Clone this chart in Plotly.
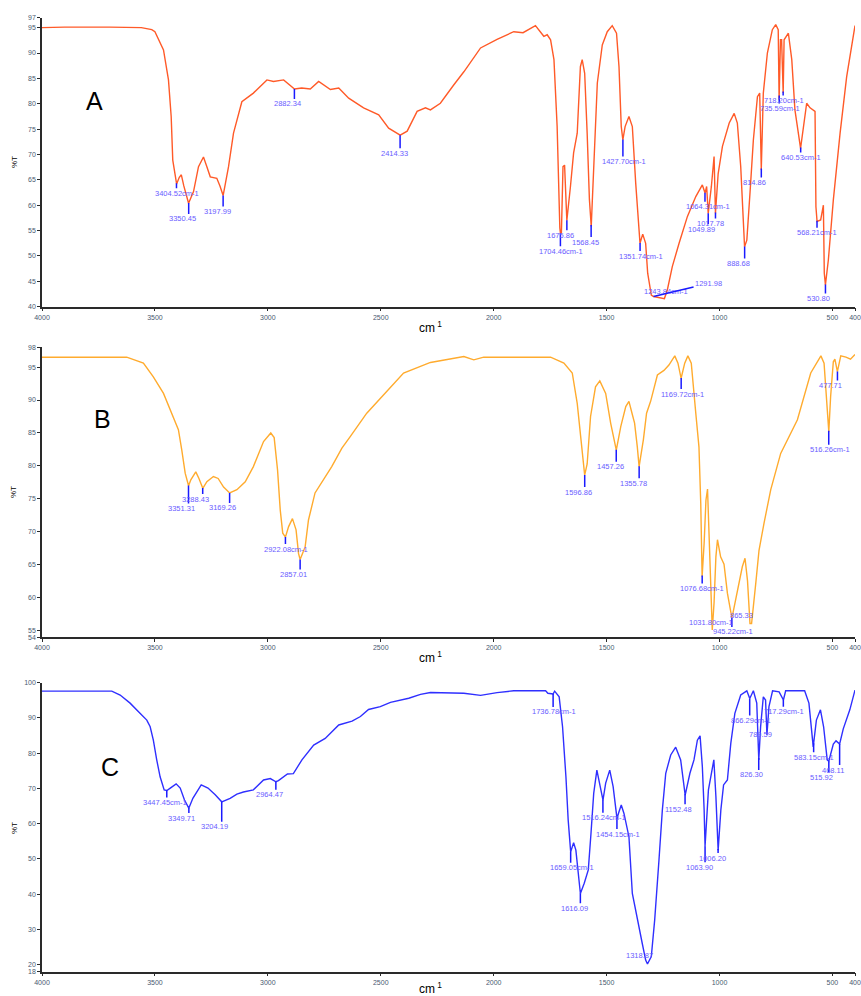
import numpy as np
import plotly.graph_objects as go

# ---------------- DATA ----------------
a_wn = [4000, 3900, 3700, 3560, 3514, 3500, 3462, 3440, 3428, 3421, 3404, 3392, 3383, 3372, 3351, 3329, 3307,
        3285, 3270, 3255, 3226, 3212, 3198, 3174, 3152, 3115, 3064, 3004, 2975, 2930, 2882, 2850, 2812, 2775,
        2723, 2686, 2642, 2576, 2509, 2465, 2414, 2383, 2339, 2302, 2280, 2236, 2177, 2132, 2058, 1985, 1911,
        1870, 1815, 1778, 1763, 1748, 1733, 1719, 1707, 1704, 1700, 1693, 1686, 1680, 1676, 1660, 1646, 1630,
        1616, 1608, 1597, 1586, 1576, 1568, 1556, 1541, 1519, 1497, 1475, 1456, 1445, 1435, 1428, 1418, 1401,
        1386, 1371, 1356, 1352, 1340, 1327, 1318, 1302, 1292, 1275, 1244, 1231, 1209, 1179, 1142, 1105, 1076,
        1064, 1057, 1050, 1036, 1024, 1018, 1006, 987, 957, 935, 921, 906, 889, 879, 865, 850, 832, 822, 815,
        806, 788, 766, 751, 740, 736, 730, 725, 718, 714, 695, 680, 666, 641, 629, 614, 599, 577, 573, 568,
        552, 540, 536, 531, 518, 496, 466, 437, 400]
a_t = [95.0, 95.1, 95.1, 95.0, 94.6, 94.2, 90.6, 84.7, 77.5, 68.9, 64.2, 65.5, 66.0, 63.8, 60.4, 62.7, 67.6,
       69.5, 67.6, 65.6, 65.3, 63.8, 61.9, 67.6, 74.2, 80.4, 82.1, 84.7, 84.4, 84.7, 82.9, 83.1, 82.9, 84.4,
       82.8, 83.1, 81.1, 79.2, 77.8, 75.2, 73.8, 74.6, 78.5, 79.2, 78.8, 80.1, 83.7, 86.3, 91.0, 92.7, 94.2,
       94.0, 95.4, 93.3, 93.6, 92.6, 88.7, 75.5, 55.5, 54.3, 54.6, 67.6, 67.9, 58.5, 57.0, 63.7, 70.3, 74.2,
       87.3, 88.7, 86.0, 74.2, 61.1, 55.8, 69.0, 84.1, 91.6, 94.2, 95.4, 93.9, 87.3, 75.5, 72.9, 75.5, 77.5,
       75.5, 64.3, 53.8, 52.5, 54.3, 52.5, 46.6, 42.3, 42.0, 41.9, 41.6, 43.3, 47.9, 52.5, 57.8, 61.7, 64.0,
       62.4, 63.7, 58.4, 63.7, 69.6, 58.4, 66.2, 71.6, 76.2, 78.1, 76.2, 67.6, 51.8, 53.1, 62.4, 72.9, 81.4, 82.1, 67.0,
       82.1, 90.0, 94.6, 95.6, 94.6, 80.8, 92.6, 92.6, 82.1, 92.6, 93.9, 88.7, 78.8, 71.2, 75.5, 80.1, 79.2, 78.5, 59.7, 56.8,
       57.1, 60.0, 46.6, 44.3, 49.2, 61.0, 74.2, 85.3, 95.4]

b_wn = [4000, 3625, 3551, 3507, 3462, 3425, 3396, 3381, 3366, 3351, 3341, 3319, 3305, 3288, 3270, 3241, 3220,
        3196, 3169, 3137, 3100, 3064, 3019, 2987, 2972, 2957, 2945, 2934, 2922, 2908, 2891, 2875, 2864, 2857,
        2835, 2820, 2791, 2717, 2672, 2636, 2562, 2487, 2399, 2280, 2206, 2132, 2088, 2044, 1911, 1748, 1689,
        1652, 1630, 1612, 1597, 1586, 1571, 1549, 1530, 1504, 1482, 1457, 1437, 1415, 1401, 1386, 1376, 1364,
        1356, 1337, 1323, 1305, 1275, 1246, 1224, 1198, 1184, 1170, 1154, 1140, 1125, 1105, 1091, 1083, 1077,
        1068, 1060, 1053, 1046, 1038, 1032, 1024, 1016, 1009, 995, 980, 965, 945, 921, 899, 887, 876, 865, 858,
        840, 825, 803, 773, 729, 655, 596, 551, 537, 522, 516, 508, 496, 489, 478, 463, 440, 420, 400]
b_t = [96.5, 96.5, 95.6, 93.5, 91.0, 88.0, 85.5, 82.4, 78.9, 77.0, 77.9, 79.1, 78.1, 76.6, 77.6, 78.4, 78.1,
       76.8, 75.9, 76.4, 77.6, 79.9, 83.7, 85.0, 84.3, 79.4, 73.3, 69.8, 69.2, 70.8, 72.0, 70.3, 66.7, 65.8,
       67.7, 71.8, 75.9, 79.9, 82.7, 84.4, 88.0, 90.8, 94.1, 95.7, 96.2, 96.6, 96.1, 96.5, 96.5, 96.5, 95.6,
       94.1, 89.5, 82.9, 78.6, 80.3, 87.5, 92.0, 92.9, 91.0, 86.5, 82.4, 86.0, 89.0, 89.8, 87.8, 86.5, 82.9,
       79.9, 84.0, 88.0, 89.8, 93.8, 94.5, 95.3, 96.7, 95.6, 93.3, 95.6, 96.7, 95.6, 88.0, 82.9, 74.3, 63.2,
       68.3, 74.8, 76.5, 70.0, 60.0, 55.1, 59.3, 66.2, 68.8, 66.2, 65.1, 60.7, 56.9, 60.7, 64.7, 66.0, 62.6, 56.1, 56.1,
       62.0, 67.2, 71.3, 76.4, 81.9, 87.0, 94.1, 96.7, 95.6, 88.0, 85.2, 90.5, 95.8, 96.2, 94.3, 96.7, 96.5, 96.2, 96.9]

c_wn = [4000, 3691, 3654, 3610, 3566, 3536, 3521, 3507, 3492, 3477, 3459, 3447, 3432, 3406, 3388, 3369, 3350,
        3332, 3295, 3265, 3233, 3204, 3167, 3137, 3108, 3064, 3019, 2989, 2964, 2953, 2913, 2887, 2849, 2797,
        2746, 2723, 2686, 2627, 2590, 2554, 2502, 2457, 2376, 2324, 2280, 2132, 2058, 1985, 1911, 1770, 1760,
        1737, 1730, 1710, 1695, 1680, 1670, 1659, 1646, 1636, 1616, 1599, 1581, 1569, 1557, 1543, 1532, 1516,
        1504, 1486, 1471, 1454, 1445, 1435, 1423, 1401, 1386, 1364, 1342, 1327, 1319, 1302, 1287, 1268, 1253,
        1238, 1216, 1194, 1172, 1152, 1131, 1113, 1098, 1086, 1076, 1068, 1064, 1049, 1034, 1025, 1016, 1006,
        994, 982, 965, 950, 932, 906, 879, 866, 850, 835, 826, 818, 806, 796, 790, 781, 765, 736, 717, 707, 623,
        604, 585, 571, 553, 539, 523, 516, 496, 484, 468, 452, 423, 400]
c_t = [97.6, 97.6, 96.5, 94.2, 91.3, 89.4, 87.5, 83.7, 78.1, 73.3, 69.6, 69.4, 70.1, 71.3, 70.1, 66.7, 64.4,
       67.2, 71.0, 70.1, 68.2, 66.2, 67.2, 68.4, 69.0, 69.6, 72.4, 72.8, 71.9, 72.2, 74.1, 74.2, 78.1, 82.3,
       84.2, 85.6, 88.0, 89.1, 90.4, 92.4, 93.2, 94.4, 95.6, 96.7, 97.2, 97.0, 96.4, 97.2, 97.7, 97.7, 97.0,
       96.8, 97.6, 96.0, 87.5, 73.3, 61.0, 52.0, 54.6, 52.5, 40.2, 43.1, 46.9, 57.3, 68.6, 75.2, 71.5, 66.7,
       71.5, 75.2, 70.5, 61.5, 63.4, 65.3, 62.9, 56.3, 40.2, 33.6, 26.0, 21.3, 20.2, 22.3, 32.7, 49.7, 63.9,
       74.3, 79.5, 81.7, 78.1, 68.1, 74.3, 78.1, 83.7, 84.9, 76.2, 63.9, 53.5, 69.6, 74.3, 78.1, 67.8, 52.5,
       63.9, 71.0, 72.4, 82.8, 91.3, 96.5, 97.7, 95.5, 97.7, 94.2, 78.1, 87.5, 96.0, 95.1, 85.2, 93.2, 97.7, 97.4, 95.1, 97.7, 97.7,
       94.2, 81.8, 89.4, 92.3, 87.5, 78.1, 77.7, 82.6, 83.5, 82.6, 86.9, 92.3, 97.9]

# peak labels (text shown) for each spectrum
a_peaks = ["3404.52cm-1", "3350.45", "3197.99", "2882.34", "2414.33", "1704.46cm-1", "1675.86", "1568.45",
           "1427.70cm-1", "1351.74cm-1", "1243.84cm-1", "1291.98", "1064.31cm-1", "1049.89", "1017.78",
           "888.68", "814.86", "735.59cm-1", "718.20cm-1", "640.53cm-1", "568.21cm-1", "530.80"]
b_peaks = ["3351.31", "3288.43", "3169.26", "2922.08cm-1", "2857.01", "1596.86", "1457.26", "1355.78",
           "1169.72cm-1", "1076.68cm-1", "1031.80cm-1", "945.22cm-1", "865.33", "516.26cm-1", "477.71"]
c_peaks = ["3447.45cm-1", "3349.71", "3204.19", "2964.47", "1736.78cm-1", "1659.05cm-1", "1616.09",
           "1516.24cm-1", "1454.15cm-1", "1318.87", "1152.48", "1063.90", "1006.20", "866.29cm-1", "826.30",
           "789.59", "717.29cm-1", "583.15cm-1", "515.92", "468.11"]

x_ticks = [4000, 3500, 3000, 2500, 2000, 1500, 1000, 500, 400]
a_yticks = [40, 45, 50, 55, 60, 65, 70, 75, 80, 85, 90, 95, 97]
b_yticks = [54, 55, 60, 65, 70, 75, 80, 85, 90, 95, 98]
c_yticks = [18, 20, 30, 40, 50, 60, 70, 80, 90, 100]

# ---------------- LAYOUT (label placement, px) ----------------
# (drop below curve to label centre, horizontal shift)
a_place = [(10, 1), (16, -6), (16, -6), (15, -7), (18, -6), (18, 1), (15, -6), (17, -6), (22, 1), (13, 1),
           (-7, 2), None, (14, 3), (16, -7), (11, -5), (17, -6), (14, -7), (13, 1), (9, 1), (10, 0), (12, 0),
           (14, -7)]
b_place = [(23, -7), (11, -7), (15, -7), (12, 1), (15, -7), (17, -6), (17, -6), (17, -6), (16, 1), (13, 0),
           (-7, -1), (14, 1), (-7, -8), (19, 1), (14, -7)]
c_place = [(12, -2), (10, -7), (25, -7), (13, -6), (18, 1), (16, 1), (15, -6), (18, 1), (16, 1), (-8, -8),
           (15, -7), (21, -6), (9, -6), (22, 1), (17, -7), (1, -7), (12, 1), (14, 0), (16, -7), (26, -7)]

W, H = 861, 996
X0, X1 = 42, 855
panels = [
    dict(wn=a_wn, t=a_t, peaks=a_peaks, place=a_place, yt=a_yticks, top=17.5, bot=306.7, color="#ff5a28",
         letter="A", lpos=(94, 101), ttl=327, pct=162),
    dict(wn=b_wn, t=b_t, peaks=b_peaks, place=b_place, yt=b_yticks, top=347.3, bot=637.3, color="#ffab2e",
         letter="B", lpos=(102, 419), ttl=657, pct=492),
    dict(wn=c_wn, t=c_t, peaks=c_peaks, place=c_place, yt=c_yticks, top=682.7, bot=971.7, color="#2f2fff",
         letter="C", lpos=(110, 767), ttl=988, pct=828),
]

fig = go.Figure()
annotations = []
LBL = "#6a5cff"
TICKC = "#4a5a70"

for i, p in enumerate(panels):
    n = "" if i == 0 else str(i + 1)
    xa, ya = "x" + n, "y" + n
    ymin, ymax = p["yt"][0], p["yt"][-1]
    ppu = (p["bot"] - p["top"]) / (ymax - ymin)
    fig.add_trace(go.Scatter(x=p["wn"], y=p["t"], mode="lines", xaxis=xa, yaxis=ya,
                             line=dict(color=p["color"], width=1.4), showlegend=False, hoverinfo="skip"))
    asc_x = np.array(p["wn"][::-1], dtype=float)
    asc_y = np.array(p["t"][::-1], dtype=float)
    lx, ly = [], []
    for lab, pl in zip(p["peaks"], p["place"]):
        wn = float(lab.replace("cm-1", ""))
        ty = float(np.interp(wn, asc_x, asc_y))
        if pl is None:  # leader line label
            annotations.append(dict(x=wn, y=ty, xref=xa, yref=ya, text=lab, showarrow=True, arrowhead=0,
                                    arrowwidth=1.5, arrowcolor="#1a1aff", ax=55, ay=-13, standoff=0,
                                    font=dict(size=7.5, color=LBL, family="Liberation Sans")))
            continue
        drop, dx = pl
        if drop > 8:
            lx += [wn, wn, None]
            ly += [ty, ty - (drop - 5) / ppu, None]
        annotations.append(dict(x=wn, y=ty, xref=xa, yref=ya, text=lab, showarrow=False, xshift=dx,
                                yshift=-drop, xanchor="center", yanchor="middle",
                                font=dict(size=7.5, color=LBL, family="Liberation Sans")))
    fig.add_trace(go.Scatter(x=lx, y=ly, mode="lines", xaxis=xa, yaxis=ya, line=dict(color="#1a1aff", width=1.5),
                             showlegend=False, hoverinfo="skip"))
    dom_y = [1 - p["bot"] / H, 1 - p["top"] / H]
    axstyle = dict(showline=True, linecolor="#2a2a2a", linewidth=1.5, ticks="outside", ticklen=3,
                   tickcolor="#2a2a2a", tickfont=dict(size=7, color=TICKC, family="Liberation Sans"),
                   showgrid=False, zeroline=False, automargin=False)
    fig.update_layout(**{
        ("xaxis" + n): dict(domain=[X0 / W, X1 / W], range=[4000, 400], anchor=ya, tickvals=x_ticks,
                            ticktext=[str(v) for v in x_ticks], **axstyle),
        ("yaxis" + n): dict(domain=dom_y, range=[ymin, ymax], anchor=xa, tickvals=p["yt"],
                            ticktext=[str(v) for v in p["yt"]], **axstyle),
    })
    annotations.append(dict(x=p["lpos"][0] / W, y=1 - p["lpos"][1] / H, xref="paper", yref="paper",
                            text=p["letter"], showarrow=False, xanchor="center", yanchor="middle",
                            font=dict(size=25, color="black", family="Liberation Sans")))
    annotations.append(dict(x=430 / W, y=1 - p["ttl"] / H, xref="paper", yref="paper",
                            text="cm<sup> 1</sup>", showarrow=False, xanchor="center", yanchor="middle",
                            font=dict(size=12, color="black", family="Liberation Sans")))
    annotations.append(dict(x=14 / W, y=1 - p["pct"] / H, xref="paper", yref="paper", text="%T",
                            textangle=-90, showarrow=False, xanchor="center", yanchor="middle",
                            font=dict(size=8, color="black", family="Liberation Sans")))

fig.update_layout(width=W, height=H, margin=dict(l=0, r=0, t=0, b=0, pad=0, autoexpand=False),
                  paper_bgcolor="white", plot_bgcolor="white", annotations=annotations, showlegend=False)
fig.write_html("out.html")
